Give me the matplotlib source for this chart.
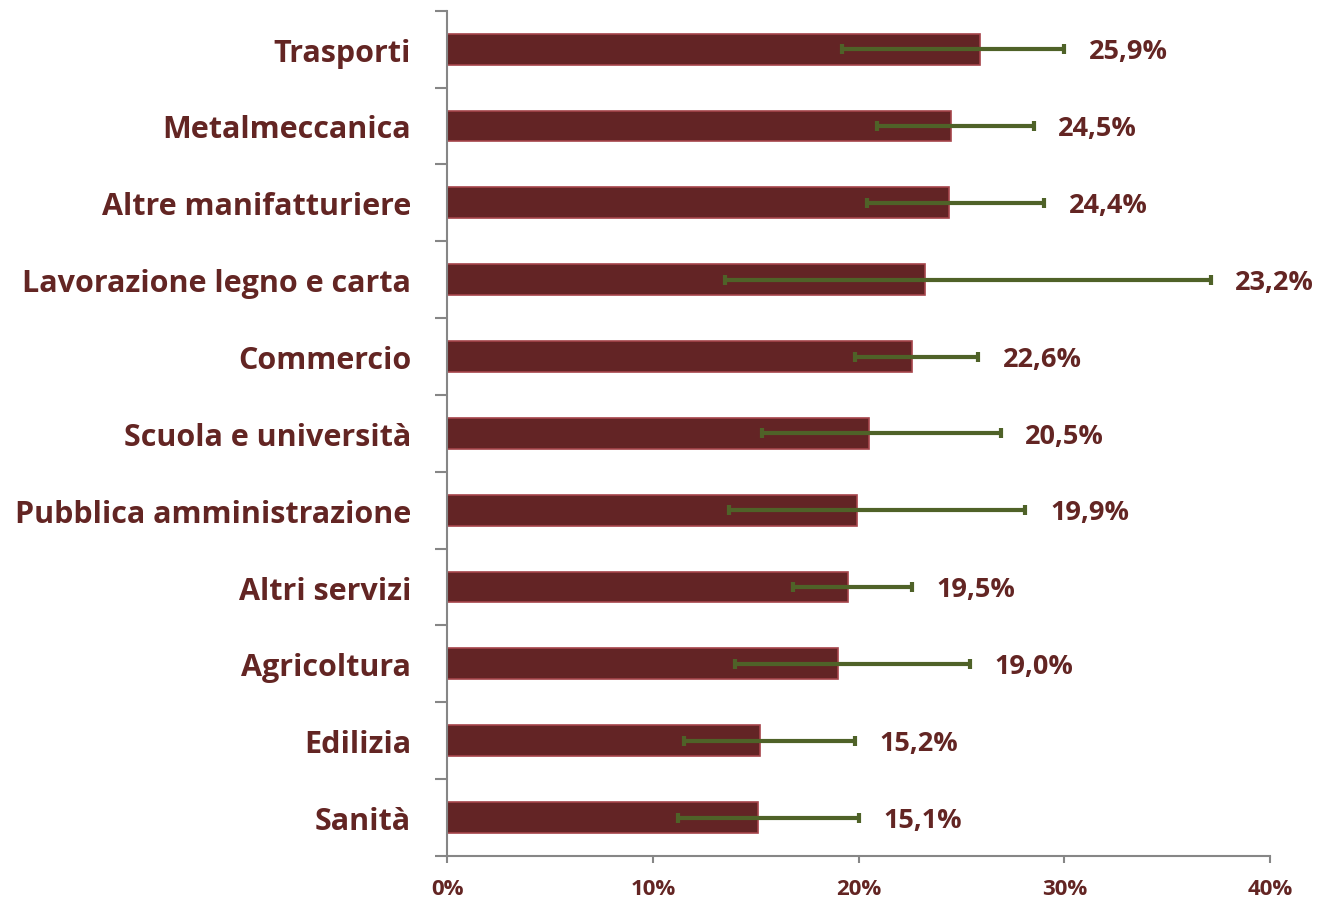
"""
Quota per settore con intervalli di confidenza, grafico a barre orizzontali.
"""

import matplotlib.pyplot as plt
import numpy as np

# Settori, dal basso verso l'alto
sectors = ["Sanità", "Edilizia", "Agricoltura", "Altri servizi",
           "Pubblica amministrazione", "Scuola e università", "Commercio",
           "Lavorazione legno e carta", "Altre manifatturiere",
           "Metalmeccanica", "Trasporti"]
values = [15.1, 15.2, 19.0, 19.5, 19.9, 20.5, 22.6, 23.2, 24.4, 24.5, 25.9]
ci_low = [11.2, 11.5, 14.0, 16.8, 13.7, 15.3, 19.8, 13.5, 20.4, 20.9, 19.2]
ci_high = [20.0, 19.8, 25.4, 22.6, 28.1, 26.9, 25.8, 37.1, 29.0, 28.5, 30.0]
x_ticks = [0, 10, 20, 30, 40]

BAR = "#632425"
EDGE = "#a5444a"
ERR = "#4f6228"
TEXT = "#632523"
AXIS = "#868686"

plt.rcParams["font.family"] = ["Open Sans", "DejaVu Sans"]
plt.rcParams["font.weight"] = "bold"

fig = plt.figure(figsize=(13.19, 9.03), dpi=100)
ax = fig.add_axes([0.339, 0.051, 0.624, 0.936])

y = np.arange(len(sectors))
vals = np.array(values)
err = np.array([vals - np.array(ci_low), np.array(ci_high) - vals])

ax.barh(y, vals, height=0.4, color=BAR, edgecolor=EDGE, linewidth=1.2, zorder=2)
ax.errorbar(vals, y, xerr=err, fmt="none", ecolor=ERR, elinewidth=3,
            capsize=3.5, capthick=3, zorder=3)

# etichette dei valori a destra della barra d'errore
for yi, v, hi in zip(y, values, ci_high):
    ax.text(hi + 1.2, yi - 0.03, f"{v:.1f}%".replace(".", ","),
            ha="left", va="center", fontsize=19.5, color=TEXT,
            fontweight="bold")

ax.set_xlim(0, 40)
ax.set_ylim(-0.5, len(sectors) - 0.5)
ax.set_xticks(x_ticks)
ax.set_xticklabels([f"{t}%" for t in x_ticks], fontsize=16, color=TEXT,
                   fontweight="bold")
ax.set_yticks(y)
ax.set_yticklabels(sectors, fontsize=22, color=TEXT, fontweight="bold")

# tacche sui confini tra categorie
ax.set_yticks(np.arange(-0.5, len(sectors)), minor=True)
ax.tick_params(axis="y", which="major", length=0, pad=26)
ax.tick_params(axis="y", which="minor", length=8.5, width=1.5, color=AXIS,
               direction="out")
ax.tick_params(axis="x", length=5, width=1.5, color=AXIS, direction="out",
               pad=11)

for side in ["top", "right"]:
    ax.spines[side].set_visible(False)
for side in ["left", "bottom"]:
    ax.spines[side].set_color(AXIS)
    ax.spines[side].set_linewidth(1.5)

plt.savefig("out.png", dpi=100)
